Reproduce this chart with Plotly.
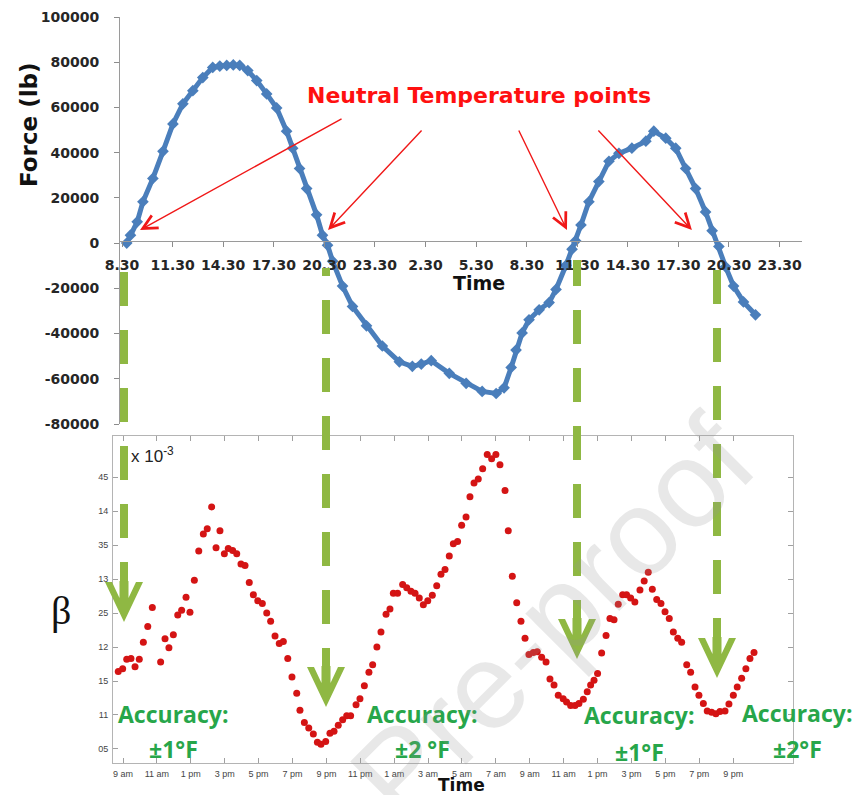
import plotly.graph_objects as go

W, H = 857, 795

# ---- Force record: time in hours counted from midnight of day 1 ----
force_hours = [8.78, 9.0, 9.4, 9.74, 10.33, 10.93, 11.52, 12.11, 12.7, 13.29, 13.88, 14.3,
               14.71, 15.1, 15.48, 15.96, 16.49, 17.08, 17.67, 18.26, 18.62, 19.03, 19.45,
               20.04, 20.39, 20.69, 20.99, 21.58, 22.17, 23.0, 23.94, 24.95, 25.72, 26.25,
               26.84, 27.91, 28.91, 29.86, 30.69, 31.16, 31.58, 31.87, 32.23, 32.64, 33.24,
               33.83, 34.24, 34.83, 35.19, 35.4, 35.72, 36.19, 36.78, 37.38, 37.97, 38.74,
               39.57, 40.04, 40.75, 41.34, 41.93, 42.52, 43.11, 43.5, 43.9, 44.3, 44.77,
               45.36, 46.07]
force_lb = [0, 3500, 9400, 18300, 28600, 40600, 52700, 61600, 67400, 73200, 77700, 78300,
            78600, 78800, 78600, 76300, 71900, 66000, 59800, 49500, 42000, 33000, 24100,
            12500, 3500, -900, -8000, -19000, -28000, -36600, -45500, -52500, -54500, -53500,
            -52000, -57600, -62000, -65600, -66500, -64000, -55000, -47300, -39700, -33900, -29500,
            -26300, -20500, -9800, -2700, 1000, 8000, 18300, 27200, 36200, 39700, 42000,
            45100, 49500, 46400, 42000, 33000, 24100, 13800, 5500, -1500, -10500, -19000,
            -26000, -31700]

top_tick_hours = [8.5, 11.5, 14.5, 17.5, 20.5, 23.5, 26.5, 29.5, 32.5, 35.5, 38.5, 41.5, 44.5, 47.5]
top_tick_labels = ["8.30", "11.30", "14.30", "17.30", "20.30", "23.30", "2.30", "5.30",
                   "8.30", "11.30", "14.30", "17.30", "20.30", "23.30"]
force_ticks = [-80000, -60000, -40000, -20000, 0, 20000, 40000, 60000, 80000, 100000]

# ---- Beta estimate ----
beta_hours = [8.72, 8.98, 9.22, 9.47, 9.71, 9.96, 10.2, 10.46, 10.73, 11.22, 11.48, 11.71,
              11.97, 12.23, 12.46, 12.72, 12.95, 13.21, 13.47, 13.74, 13.97, 14.23, 14.49,
              14.72, 14.98, 15.21, 15.47, 15.71, 15.96, 16.2, 16.45, 16.69, 16.95, 17.22,
              17.48, 17.71, 17.97, 18.22, 18.46, 18.72, 18.97, 19.25, 19.44, 19.7, 19.96,
              20.23, 20.47, 20.68, 20.96, 21.21, 21.45, 21.7, 21.96, 22.2, 22.43, 22.75,
              22.98, 23.24, 23.51, 23.73, 23.98, 24.22, 24.52, 24.75, 24.95, 25.2, 25.5,
              25.74, 25.99, 26.23, 26.48, 26.72, 26.98, 27.25, 27.51, 27.76, 28.0, 28.25,
              28.49, 28.74, 28.98, 29.24, 29.47, 29.71, 29.96, 30.22, 30.49, 30.75, 31.0,
              31.24, 31.54, 31.73, 31.97, 32.23, 32.48, 32.72, 32.95, 33.21, 33.44, 33.7,
              33.96, 34.19, 34.43, 34.68, 34.97, 35.17, 35.41, 35.67, 35.9, 36.16, 36.39,
              36.59, 36.79, 37.0, 37.24, 37.5, 37.73, 37.97, 38.22, 38.48, 38.71, 38.95,
              39.2, 39.5, 39.75, 39.99, 40.23, 40.49, 40.74, 40.98, 41.23, 41.47, 41.73,
              41.96, 42.26, 42.49, 42.75, 42.98, 43.24, 43.47, 43.73, 43.98, 44.22, 44.52,
              44.75, 45.01, 45.24, 45.5, 45.75, 45.99, 46.23]
beta_vals = [.1164, .1168, .1182, .1183, .1171, .1182, .1207, .1230, .1258, .1178, .1212, .1199,
             .1218, .1247, .1254, .1273, .1251, .1298, .1341, .1366, .1374, .1406, .1346,
             .1371, .1337, .1345, .1342, .1337, .1322, .1320, .1295, .1277, .1268, .1264,
             .1250, .1238, .1216, .1205, .1208, .1183, .1156, .1132, .1107, .1089, .1081,
             .1072, .1060, .1057, .1061, .1073, .1076, .1085, .1093, .1099, .1099, .1115,
             .1124, .1143, .1163, .1174, .1200, .1222, .1248, .1256, .1279, .1279, .1292,
             .1287, .1282, .1279, .1272, .1262, .1268, .1276, .1290, .1307, .1314, .1334,
             .1352, .1355, .1379, .1391, .1421, .1441, .1447, .1462, .1483, .1477, .1483,
             .1468, .1430, .1371, .1304, .1265, .1238, .1213, .1189, .1192, .1193, .1185,
             .1178, .1153, .1144, .1129, .1124, .1119, .1114, .1114, .1117, .1123, .1134,
             .1144, .1151, .1161, .1191, .1217, .1242, .1240, .1263, .1277, .1277, .1272,
             .1266, .1284, .1297, .1310, .1285, .1270, .1264, .1252, .1242, .1222, .1213,
             .1207, .1174, .1163, .1141, .1129, .1117, .1106, .1104, .1102, .1105, .1106,
             .1116, .1129, .1141, .1154, .1168, .1183, .1192]

bottom_tick_hours = [9, 11, 13, 15, 17, 19, 21, 23, 25, 27, 29, 31, 33, 35, 37, 39, 41, 43, 45]
bottom_tick_labels = ["9 am", "11 am", "1 pm", "3 pm", "5 pm", "7 pm", "9 pm", "11 pm",
                      "1 am", "3 am", "5 am", "7 am", "9 am", "11 am", "1 pm", "3 pm",
                      "5 pm", "7 pm", "9 pm"]
beta_ticks = [0.105, 0.11, 0.115, 0.12, 0.125, 0.13, 0.135, 0.14, 0.145]
beta_tick_labels = ["05", "11", "15", "12", "25", "13", "35", "14", "45"]

# Neutral-temperature callouts: (arrow tip hour, tip force, tail hour, tail force)
neutral_arrows = [(9.57, 5800, 21.61, 55350),
                  (20.72, 5800, 26.35, 50440),
                  (34.89, 5800, 31.99, 50440),
                  (42.3, 5800, 36.67, 50440)]


def px_x(v):
    return v / W


def px_y(v):
    return 1 - v / H


BLUE = "#4A7EBB"
RED_DOT = "#D41414"
GREEN = "#8FB843"
TEXT_GREEN = "#27A64A"
BOLD = "DejaVu Sans"

fig = go.Figure()

fig.add_trace(go.Scatter(
    x=force_hours, y=force_lb, mode="lines+markers",
    line=dict(color=BLUE, width=5),
    marker=dict(symbol="diamond", size=9, color=BLUE),
    xaxis="x", yaxis="y", showlegend=False, hoverinfo="skip"))

fig.add_trace(go.Scatter(
    x=beta_hours, y=beta_vals, mode="markers",
    marker=dict(size=7, color=RED_DOT),
    xaxis="x2", yaxis="y2", showlegend=False, hoverinfo="skip"))

fig.update_layout(
    width=W, height=H,
    margin=dict(l=0, r=0, t=0, b=0, autoexpand=False),
    paper_bgcolor="white", plot_bgcolor="white",
    xaxis=dict(domain=[px_x(120), px_x(802)], range=[8.38, 48.83],
               anchor="free", position=px_y(241),
               tickmode="array", tickvals=top_tick_hours, ticktext=top_tick_labels,
               ticks="outside", ticklen=5, tickcolor="#8c8c8c",
               showline=True, linecolor="#9a9a9a", linewidth=1,
               showgrid=False, zeroline=False, ticklabelstandoff=6,
               tickfont=dict(family=BOLD, size=14, color="#262626", weight="bold")),
    yaxis=dict(domain=[px_y(424), px_y(17)], range=[-80000, 100000], anchor="x",
               tickmode="array", tickvals=force_ticks,
               ticktext=[str(v) for v in force_ticks],
               ticks="outside", ticklen=5, tickcolor="#8c8c8c",
               showline=True, linecolor="#9a9a9a", linewidth=1,
               showgrid=False, zeroline=False, ticklabelstandoff=12,
               tickfont=dict(family=BOLD, size=14, color="#262626", weight="bold")),
    xaxis2=dict(domain=[px_x(113), px_x(793)], range=[8.41, 48.53], anchor="y2",
                tickmode="array", tickvals=bottom_tick_hours, ticktext=bottom_tick_labels,
                ticks="inside", ticklen=5, tickcolor="#a0a0a0", mirror="ticks",
                showline=True, linecolor="#b4b4b4", linewidth=1,
                showgrid=False, zeroline=False, ticklabelstandoff=2,
                tickfont=dict(family="Liberation Sans", size=9, color="#444444")),
    yaxis2=dict(domain=[px_y(763), px_y(436)], range=[0.10294, 0.15103], anchor="x2",
                tickmode="array", tickvals=beta_ticks, ticktext=beta_tick_labels,
                ticks="inside", ticklen=5, tickcolor="#a0a0a0", mirror="ticks",
                showline=True, linecolor="#b4b4b4", linewidth=1,
                showgrid=False, zeroline=False, ticklabelstandoff=2,
                tickfont=dict(family="Liberation Sans", size=9, color="#444444")),
)

# Green dashed guide arrows linking the neutral points to the beta minima
guides = [  # (x, first dash start, top of guide, top of arrow head) in page pixels
    (124, 272, 272, 582),
    (326, 300, 268, 667),
    (577, 310, 260, 619),
    (717, 270, 270, 638),
]
DASH, PERIOD = 34, 58
head_outline = [(-4.5, -1), (-4.5, 16), (-12, 0), (-19, 0), (0, 40),
                (19, 0), (12, 0), (4.5, 16), (4.5, -1)]
shapes = []
for gx, y0, ytop, yhead in guides:
    segs = []
    k = -3
    while True:
        a = y0 + k * PERIOD
        b = a + DASH
        if a > yhead:
            break
        a2, b2 = max(a, ytop), min(b, yhead)
        if b2 > a2:
            segs.append(f"M{px_x(gx):.5f},{px_y(a2):.5f} L{px_x(gx):.5f},{px_y(b2):.5f}")
        k += 1
    shapes.append(dict(type="path", xref="paper", yref="paper", layer="above",
                       path=" ".join(segs), line=dict(color=GREEN, width=8)))
    pts = [f"{px_x(gx + dx):.5f},{px_y(yhead + dy):.5f}" for dx, dy in head_outline]
    shapes.append(dict(type="path", xref="paper", yref="paper", layer="above",
                       path="M" + " L".join(pts) + " Z",
                       fillcolor=GREEN, line=dict(width=0)))
fig.update_layout(shapes=shapes)

ann = []
for tx, ty, sx, sy in neutral_arrows:
    ann.append(dict(x=tx, y=ty, ax=sx, ay=sy, xref="x", yref="y", axref="x", ayref="y",
                    showarrow=True, arrowhead=5, arrowsize=2, arrowwidth=1.4,
                    arrowcolor="#F01818", text=""))


def label(text, x, y, font, **kw):
    d = dict(text=text, x=px_x(x), y=px_y(y), xref="paper", yref="paper",
             xanchor="center", yanchor="middle", showarrow=False, font=font)
    d.update(kw)
    return d


ann += [
    label("Neutral Temperature points", 479, 96,
          dict(family=BOLD, size=22, color="#FF1010", weight="bold")),
    label("Force (lb)", 29, 125, dict(family=BOLD, size=23, color="#111111", weight="bold"),
          textangle=-90),
    label("Time", 479, 283, dict(family=BOLD, size=19, color="#111111", weight="bold")),
    label("Time", 461, 785, dict(family=BOLD, size=17, color="#111111", weight="bold")),
    label("x 10<sup>-3</sup>", 129, 455, dict(family="Liberation Sans", size=17, color="#222222"),
          xanchor="left"),
    label("β", 61, 610, dict(family="Liberation Serif", size=40, color="#111111")),
]

accuracy_labels = [  # (x center, "Accuracy:" y, value y, value text)
    (173, 714, 749, "±1°F"),
    (422, 714, 749, "±2 °F"),
    (639, 715, 752, "±1°F"),
    (797, 713, 749, "±2°F"),
]
acc_font = dict(family="Open Sans", size=23, color=TEXT_GREEN, weight="bold")
for ax_, y1, y2, txt in accuracy_labels:
    ann.append(label("Accuracy:", ax_, y1, acc_font))
    ann.append(label(txt, ax_, y2, acc_font))

ann.append(label("Pre-proof", 553, 618,
                 dict(family="Liberation Sans", size=122, color="rgba(150,150,150,0.22)"),
                 textangle=-45))

fig.update_layout(annotations=ann)

fig.write_html("out.html")
